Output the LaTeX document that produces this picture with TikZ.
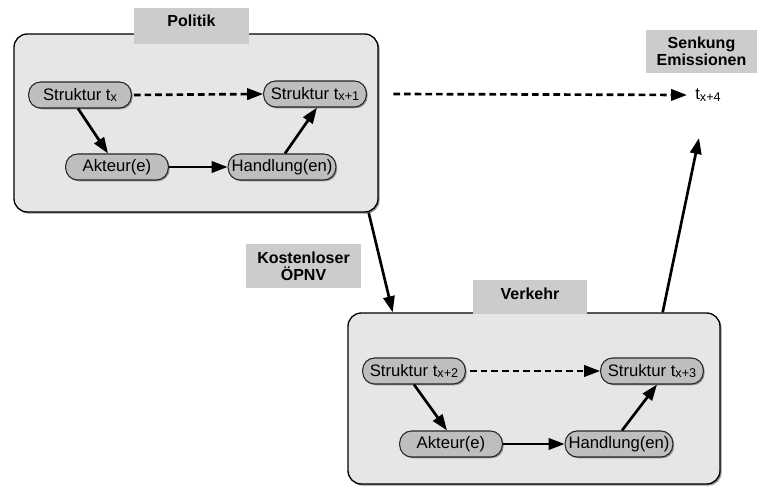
\documentclass[tikz,border=0pt]{standalone}
\usepackage{fontspec}
\setmainfont{Liberation Sans}
\usetikzlibrary{arrows.meta,shadows}
\definecolor{boxfill}{HTML}{E6E6E6}
\definecolor{lblfill}{HTML}{CCCCCC}
\definecolor{nodefill}{HTML}{BEBEBE}
\newcommand\tsub[1]{\raisebox{-1.3pt}{\fontsize{9.5}{10}\selectfont #1}}
\begin{document}
\begin{tikzpicture}[x=0.75pt,y=-0.75pt,
  outerbox/.style={draw=black, line width=1pt, fill=boxfill, rounded corners=10pt,
    drop shadow={shadow xshift=1.2pt, shadow yshift=-1.2pt, fill=black!60, opacity=0.7}},
  statebox/.style={draw=black!85, line width=0.8pt, fill=nodefill, rounded corners=9pt,
    minimum width=77pt, minimum height=19.5pt, inner xsep=2.5pt, inner ysep=1pt,
    font=\fontsize{12.5}{14}\selectfont,
    drop shadow={shadow xshift=1pt, shadow yshift=-1pt, fill=black!55, opacity=0.7}},
  lblbox/.style={fill=lblfill, font=\bfseries\fontsize{12}{13}\selectfont, inner xsep=0pt},
  arr/.style={-{Triangle[length=12pt,width=8.5pt]}, line width=2pt},
  dasharr/.style={arr, dash pattern=on 5pt off 3pt}
]
\useasboundingbox (0,0) rectangle (764,488);

% outer boxes
\node[outerbox, minimum width=273pt, minimum height=133.5pt] (pol) at (196,123) {};
\node[outerbox, minimum width=279pt, minimum height=128.25pt] (ver) at (534,398.5) {};

% labels
\node[lblbox, anchor=north, minimum width=86pt, text height=10.5pt, text depth=10.5pt, inner ysep=3pt] (plbl) at (191.5,8) {Politik};
\node[lblbox, anchor=north, minimum width=85.5pt, text height=11.25pt, text depth=8.25pt, inner ysep=3pt] (vlbl) at (530,280) {Verkehr};
\node[lblbox, align=center, minimum width=83pt, minimum height=32pt, inner ysep=0pt] (senk) at (701.5,51.5) {Senkung\\Emissionen};
\node[lblbox, align=center, minimum width=86pt, minimum height=33pt, inner ysep=0pt] (oepnv) at (303.5,266) {Kostenloser\\ÖPNV};

% Politik nodes
\node[statebox] (s1) at (80,95) {Struktur t\tsub{x}};
\node[statebox] (s2) at (315,94) {Struktur t\tsub{x+1}};
\node[statebox] (a1) at (117,167) {Akteur(e)};
\node[statebox] (h1) at (282,167) {Handlung(en)};

% Verkehr nodes
\node[statebox] (s3) at (414,371) {Struktur t\tsub{x+2}};
\node[statebox] (s4) at (652,371) {Struktur t\tsub{x+3}};
\node[statebox] (a2) at (451,444) {Akteur(e)};
\node[statebox] (h2) at (619,444) {Handlung(en)};

% end label
\node[font=\fontsize{12.5}{14}\selectfont, inner sep=2pt] (t4) at (708,95) {t\tsub{x+4}};
\coordinate (up) at (699,138);

% arrows Politik
\draw[dasharr] ([xshift=1.5pt]s1.east) -- (s2.west);
\draw[arr] ([xshift=-1.5pt]s1.south) -- ([xshift=-6.75pt]a1.north);
\draw[arr] (a1.east) -- (h1.west);
\draw[arr] ([xshift=2.25pt]h1.north) -- ([xshift=1.5pt]s2.south);

% arrows Verkehr
\draw[dasharr] ([xshift=3pt]s3.east) -- (s4.west);
\draw[arr] (s3.south) -- ([xshift=-3pt]a2.north);
\draw[arr] (a2.east) -- (h2.west);
\draw[arr] ([xshift=2.25pt]h2.north) -- ([xshift=3.75pt]s4.south);

% big arrows
\draw[dasharr] ([xshift=11pt]pol.east |- s2) -- ([xshift=-4pt]t4.west);
\draw[arr] ([xshift=-7.5pt]pol.south east) -- ([xshift=34pt]ver.north west);
\draw[arr] ([xshift=-43.5pt]ver.north east) -- (up);
\end{tikzpicture}
\end{document}
